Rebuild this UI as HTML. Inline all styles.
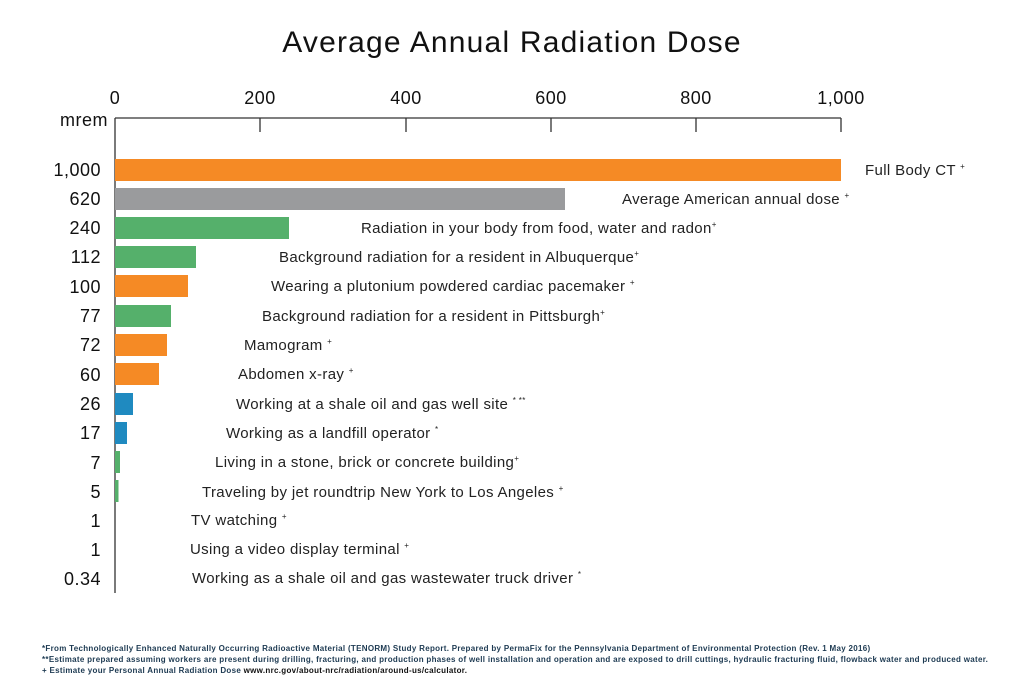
<!DOCTYPE html>
<html><head><meta charset="utf-8"><style>
html,body{margin:0;padding:0;background:#fff}
svg{display:block;font-family:"Liberation Sans",sans-serif}
</style></head><body>
<svg width="1024" height="689" viewBox="0 0 1024 689">
<text x="512" y="52" text-anchor="middle" font-size="30" letter-spacing="1.2" fill="#111">Average Annual Radiation Dose</text>
<g font-size="18" fill="#111" text-anchor="middle" letter-spacing="0.5">
<text x="115" y="104">0</text><text x="260" y="104">200</text><text x="406" y="104">400</text><text x="551" y="104">600</text><text x="696" y="104">800</text><text x="841" y="104">1,000</text>
</g>
<text x="108" y="126" font-size="18" fill="#111" text-anchor="end" letter-spacing="0.5">mrem</text>
<g stroke="#333" stroke-width="1.3">
<line x1="115" y1="118" x2="841" y2="118"/><line x1="115" y1="118" x2="115" y2="593"/>
<line x1="260" y1="118" x2="260" y2="132"/><line x1="406" y1="118" x2="406" y2="132"/><line x1="551" y1="118" x2="551" y2="132"/><line x1="696" y1="118" x2="696" y2="132"/><line x1="841" y1="118" x2="841" y2="132"/>
</g>
<g>
<rect x="115" y="159" width="726" height="22" fill="#F58A25"/>
<rect x="115" y="188" width="450" height="22" fill="#9A9B9D"/>
<rect x="115" y="217" width="174" height="22" fill="#55B06B"/>
<rect x="115" y="246" width="81" height="22" fill="#55B06B"/>
<rect x="115" y="275" width="73" height="22" fill="#F58A25"/>
<rect x="115" y="305" width="56" height="22" fill="#55B06B"/>
<rect x="115" y="334" width="52" height="22" fill="#F58A25"/>
<rect x="115" y="363" width="44" height="22" fill="#F58A25"/>
<rect x="115" y="393" width="18" height="22" fill="#1F8AC0"/>
<rect x="115" y="422" width="12" height="22" fill="#1F8AC0"/>
<rect x="115" y="451" width="5" height="22" fill="#55B06B"/>
<rect x="115" y="480" width="3.5" height="22" fill="#55B06B"/>
</g>
<g font-size="18" fill="#111" text-anchor="end" letter-spacing="0.5">
<text x="101" y="176">1,000</text><text x="101" y="205">620</text><text x="101" y="234">240</text><text x="101" y="263">112</text><text x="101" y="293">100</text><text x="101" y="322">77</text><text x="101" y="351">72</text><text x="101" y="381">60</text><text x="101" y="410">26</text><text x="101" y="439">17</text><text x="101" y="469">7</text><text x="101" y="498">5</text><text x="101" y="527">1</text><text x="101" y="556">1</text><text x="101" y="585">0.34</text>
</g>
<g font-size="15" fill="#222" letter-spacing="0.35">
<text x="865" y="175">Full Body CT <tspan font-size="8" dy="-6">+</tspan></text>
<text x="622" y="204">Average American annual dose <tspan font-size="8" dy="-6">+</tspan></text>
<text x="361" y="233">Radiation in your body from food, water and radon<tspan font-size="8" dy="-6">+</tspan></text>
<text x="279" y="262">Background radiation for a resident in Albuquerque<tspan font-size="8" dy="-6">+</tspan></text>
<text x="271" y="291">Wearing a plutonium powdered cardiac pacemaker <tspan font-size="8" dy="-6">+</tspan></text>
<text x="262" y="321">Background radiation for a resident in Pittsburgh<tspan font-size="8" dy="-6">+</tspan></text>
<text x="244" y="350">Mamogram  <tspan font-size="8" dy="-6">+</tspan></text>
<text x="238" y="379">Abdomen x-ray  <tspan font-size="8" dy="-6">+</tspan></text>
<text x="236" y="409">Working at a shale oil and gas well site <tspan font-size="8" dy="-6">*      **</tspan></text>
<text x="226" y="438">Working as a landfill operator <tspan font-size="8" dy="-6">*</tspan></text>
<text x="215" y="467">Living in a stone, brick or concrete building<tspan font-size="8" dy="-6">+</tspan></text>
<text x="202" y="497">Traveling by jet roundtrip New York to Los Angeles <tspan font-size="8" dy="-6">+</tspan></text>
<text x="191" y="525">TV watching <tspan font-size="8" dy="-6">+</tspan></text>
<text x="190" y="554">Using a video display terminal <tspan font-size="8" dy="-6">+</tspan></text>
<text x="192" y="583">Working as a shale oil and gas wastewater truck driver <tspan font-size="8" dy="-6">*</tspan></text>
</g>
<g font-size="8" font-weight="bold" fill="#1d3a52" letter-spacing="0.3">
<text x="42" y="651">*From Technologically Enhanced Naturally Occurring Radioactive Material (TENORM) Study Report. Prepared by PermaFix for the Pennsylvania Department of Environmental Protection (Rev. 1 May 2016)</text>
<text x="42" y="662">**Estimate prepared assuming workers are present during drilling, fracturing, and production phases of well installation and operation and are exposed to drill cuttings, hydraulic fracturing fluid, flowback water and produced water.</text>
<text x="42" y="673">+ Estimate your Personal Annual Radiation Dose <tspan fill="#111">www.nrc.gov/about-nrc/radiation/around-us/calculator.</tspan></text>
</g>
</svg>
</body></html>
